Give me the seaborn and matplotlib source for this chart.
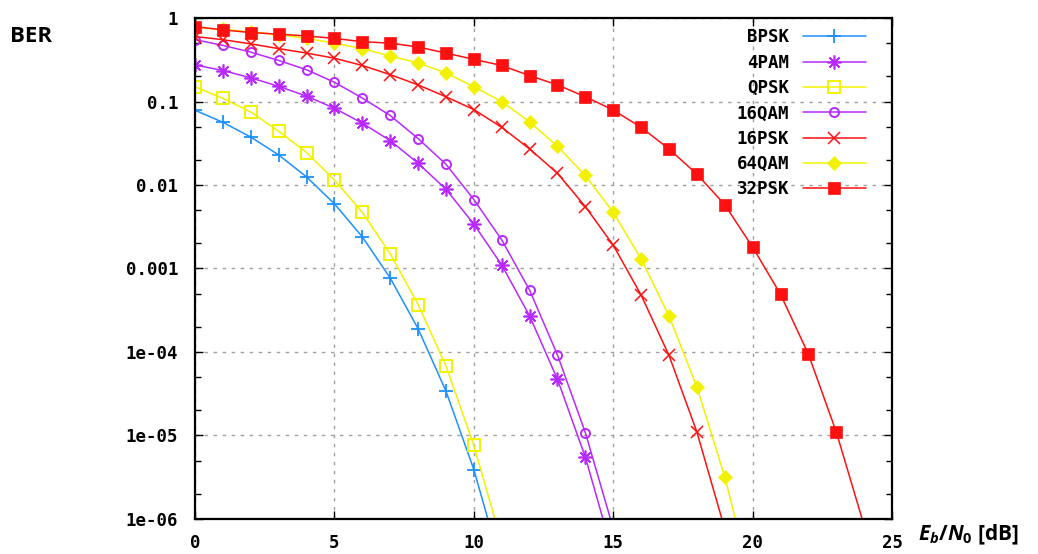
import numpy as np
import pandas as pd
import matplotlib
matplotlib.use("Agg")
import matplotlib.pyplot as plt
import seaborn as sns
from matplotlib.ticker import LogLocator, FixedLocator, NullFormatter

# Eb/N0 in dB, one point per dB; the last point of each curve lies below 1e-6 (clipped)
snr_bpsk = list(range(0, 12))
ber_bpsk = [0.0786, 0.0563, 0.0375, 0.0229, 0.0125, 0.00595, 0.00239, 7.7e-4,
            1.9e-4, 3.4e-5, 3.9e-6, 2.6e-7]

snr_4pam = list(range(0, 16))
ber_4pam = [0.274, 0.235, 0.192, 0.152, 0.116, 0.083, 0.055, 0.034, 0.0182,
            0.0089, 0.0034, 0.0011, 2.7e-4, 4.7e-5, 5.5e-6, 3.7e-7]

snr_qpsk = list(range(0, 12))
ber_qpsk = [0.15, 0.109, 0.075, 0.044, 0.0245, 0.0115, 0.0047, 0.0015,
            3.7e-4, 6.8e-5, 7.6e-6, 5.2e-7]

snr_16qam = list(range(0, 16))
ber_16qam = [0.55, 0.47, 0.39, 0.31, 0.24, 0.17, 0.11, 0.068, 0.036, 0.0177,
             0.0067, 0.0022, 5.5e-4, 9.2e-5, 1.08e-5, 7.7e-7]

snr_16psk = list(range(0, 20))
ber_16psk = [0.60, 0.55, 0.49, 0.43, 0.38, 0.33, 0.27, 0.21, 0.158, 0.114,
             0.080, 0.049, 0.027, 0.0138, 0.0055, 0.0019, 4.8e-4, 9.1e-5,
             1.1e-5, 7.6e-7]

snr_64qam = list(range(0, 21))
ber_64qam = [0.77, 0.73, 0.68, 0.63, 0.57, 0.50, 0.43, 0.35, 0.29, 0.22, 0.15,
             0.10, 0.057, 0.029, 0.013, 0.0047, 0.0013, 2.7e-4, 3.8e-5, 3.2e-6,
             1.5e-7]

snr_32psk = list(range(0, 25))
ber_32psk = [0.79, 0.72, 0.67, 0.64, 0.61, 0.57, 0.52, 0.50, 0.45, 0.38, 0.32,
             0.27, 0.204, 0.158, 0.114, 0.079, 0.049, 0.027, 0.0135, 0.0058,
             0.0018, 4.9e-4, 9.4e-5, 1.1e-5, 8.3e-7]

schemes = ["BPSK", "4PAM", "QPSK", "16QAM", "16PSK", "64QAM", "32PSK"]
xticks = [0, 5, 10, 15, 20, 25]
yticks = [1e-6, 1e-5, 1e-4, 1e-3, 1e-2, 1e-1, 1]
ytick_labels = ["1e-06", "1e-05", "1e-04", "0.001", "0.01", "0.1", "1"]

frames = []
for name, x, y in zip(schemes,
                      [snr_bpsk, snr_4pam, snr_qpsk, snr_16qam, snr_16psk, snr_64qam, snr_32psk],
                      [ber_bpsk, ber_4pam, ber_qpsk, ber_16qam, ber_16psk, ber_64qam, ber_32psk]):
    frames.append(pd.DataFrame({"snr": x, "ber": y, "scheme": name}))
df = pd.concat(frames, ignore_index=True)

blue = "#1E90FF"
purple = "#B829FF"
yellow = "#F2F200"
red = "#FF1010"

styles = {
    "BPSK":  dict(color=blue, marker="+", markersize=10, mew=1.3),
    "4PAM":  dict(color=purple, marker=(8, 2, 0), markersize=10, mew=1.2),
    "QPSK":  dict(color=yellow, marker="s", markersize=8.5, mew=1.4, mfc="none"),
    "16QAM": dict(color=purple, marker="o", markersize=6.5, mew=1.4, mfc="none"),
    "16PSK": dict(color=red, marker="x", markersize=9, mew=1.1),
    "64QAM": dict(color=yellow, marker="D", markersize=7, mew=0.5),
    "32PSK": dict(color=red, marker="s", markersize=9, mew=0.5),
}

sns.set_style("ticks")
plt.rcParams["font.family"] = ["DejaVu Sans Mono"]
plt.rcParams["text.color"] = "black"
plt.rcParams["xtick.color"] = "black"
plt.rcParams["ytick.color"] = "black"
plt.rcParams["xtick.labelcolor"] = "black"
plt.rcParams["ytick.labelcolor"] = "black"
plt.rcParams["mathtext.fontset"] = "custom"
plt.rcParams["mathtext.it"] = "Open Sans:italic:bold"
plt.rcParams["mathtext.rm"] = "Open Sans:bold"

fig = plt.figure(figsize=(10.38, 5.54), dpi=100)
ax = fig.add_axes([0.1879, 0.0632, 0.6715, 0.9043])

for name in schemes:
    sub = df[df["scheme"] == name]
    st = styles[name]
    sns.lineplot(data=sub, x="snr", y="ber", ax=ax, label=name, linewidth=1.1,
                 color=st["color"], marker=st["marker"], markersize=st["markersize"],
                 markeredgewidth=st["mew"], markerfacecolor=st.get("mfc", st["color"]),
                 markeredgecolor=st["color"], clip_on=True)

ax.set_yscale("log")
ax.set_xlim(0, 25)
ax.set_ylim(1e-6, 1)
ax.set_xticks(xticks)
ax.set_xticklabels([str(t) for t in xticks])
ax.yaxis.set_major_locator(FixedLocator(yticks))
ax.set_yticklabels(ytick_labels)
ax.yaxis.set_minor_locator(LogLocator(base=10, subs=(2.0, 5.0), numticks=20))
ax.yaxis.set_minor_formatter(NullFormatter())
ax.set_xlabel("")
ax.set_ylabel("")

ax.grid(True, which="major", color="#a0a0a0", linestyle=(0, (2.5, 4)), linewidth=1.0)
ax.tick_params(which="both", direction="in", top=True, right=True, width=1.0,
               color="black", labelcolor="black")
ax.tick_params(which="major", length=6)
ax.tick_params(which="minor", length=4)
ax.tick_params(axis="y", pad=12)
ax.tick_params(axis="x", pad=11)
for lab in ax.get_xticklabels() + ax.get_yticklabels():
    lab.set_fontweight("bold")
    lab.set_fontsize(12.5)
for sp in ax.spines.values():
    sp.set_linewidth(1.6)
    sp.set_color("black")

leg = ax.legend(loc="upper right", bbox_to_anchor=(0.972, 0.993), frameon=False,
                markerfirst=False, handlelength=3.6, handletextpad=0.8,
                labelspacing=0.42, borderaxespad=0.0,
                prop={"family": "DejaVu Sans Mono", "weight": "bold", "size": 12.5})
for t in leg.get_texts():
    t.set_ha("right")
    t.set_color("black")

fig.text(0.0096, 0.935, "BER", family="Open Sans", fontweight="bold", fontsize=16,
         color="black", ha="left", va="center")
fig.text(0.884, 0.035, r"$\mathit{E_b/N_0}$" + " [dB]", family="Open Sans",
         fontweight="bold", fontsize=15, color="black", ha="left", va="center")

fig.savefig("out.png", dpi=100)
